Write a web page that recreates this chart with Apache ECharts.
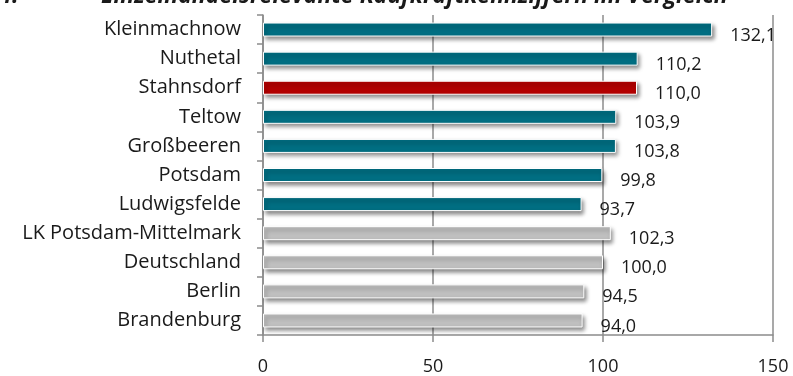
<!DOCTYPE html>
<html>
<head>
<meta charset="utf-8">
<script src="https://cdn.jsdelivr.net/npm/echarts@6/dist/echarts.min.js"></script>
<style>
  html, body { margin: 0; padding: 0; background: #ffffff; }
  #chart { width: 793px; height: 376px; }
</style>
</head>
<body>
<div id="chart"></div>
<script>
// Daten
var categories = ['Kleinmachnow', 'Nuthetal', 'Stahnsdorf', 'Teltow', 'Großbeeren', 'Potsdam', 'Ludwigsfelde',
  'LK Potsdam-Mittelmark', 'Deutschland', 'Berlin', 'Brandenburg']
var values = [132.1, 110.2, 110.0, 103.9, 103.8, 99.8, 93.7, 102.3, 100.0, 94.5, 94.0]
// Gruppe: 0 = Umland (teal), 1 = Stahnsdorf, 2 = Referenz (grau)
var groups = [0, 0, 1, 0, 0, 0, 0, 2, 2, 2, 2]
var xTicks = [0, 50, 100, 150]

var groupColors = ['#006E82', '#B30000', '#BFBFBF']
var fontFam = '"Open Sans", "Noto Sans", sans-serif'

var chart = echarts.init(document.getElementById('chart'))

var option = {
  animation: false,
  graphic: [
    {
      type: 'text',
      left: 101,
      top: -15,
      style: {
        text: 'Einzelhandelsrelevante Kaufkraftkennziffern im Vergleich',
        font: 'italic bold 23px ' + fontFam,
        fill: '#1a1a1a'
      }
    },
    {
      type: 'text',
      left: -55,
      top: -15,
      style: {
        text: 'Abb. 4:',
        font: 'italic bold 23px ' + fontFam,
        fill: '#1a1a1a'
      }
    }
  ],
  grid: {
    left: 263,
    right: 20,
    top: 15,
    bottom: 39,
    containLabel: false
  },
  xAxis: {
    type: 'value',
    min: 0,
    max: 150,
    interval: 50,
    axisLine: { show: true, lineStyle: { color: '#8c8c8c', width: 1.5 } },
    axisTick: { show: true, length: 7, lineStyle: { color: '#8c8c8c', width: 1.5 } },
    axisLabel: {
      color: '#1a1a1a',
      fontSize: 18,
      fontFamily: fontFam,
      margin: 23,
      formatter: function (v) {
        return xTicks.indexOf(v) >= 0 ? String(v) : ''
      }
    },
    splitLine: { show: true, lineStyle: { color: '#8c8c8c', width: 1.5 } }
  },
  yAxis: {
    type: 'category',
    data: categories,
    inverse: true,
    axisLine: { show: true, lineStyle: { color: '#8c8c8c', width: 1.5 } },
    axisTick: { show: true, length: 6, lineStyle: { color: '#8c8c8c', width: 1.5 } },
    axisLabel: {
      color: '#1a1a1a',
      fontSize: 20,
      fontFamily: fontFam,
      margin: 22
    }
  },
  series: [
    {
      type: 'bar',
      barWidth: 14,
      data: values.map(function (v, i) {
        return {
          value: v,
          itemStyle: { color: groupColors[groups[i]] }
        }
      }),
      itemStyle: {
        borderColor: '#ffffff',
        borderWidth: 1,
        shadowColor: 'rgba(0,0,0,0.45)',
        shadowBlur: 4,
        shadowOffsetX: 2,
        shadowOffsetY: 3
      },
      label: {
        show: true,
        position: 'right',
        distance: 18,
        offset: [0, 6],
        color: '#1a1a1a',
        fontSize: 18,
        fontFamily: fontFam,
        formatter: function (p) {
          return p.value.toFixed(1).replace('.', ',')
        }
      }
    }
  ]
}

chart.setOption(option)
</script>
</body>
</html>
